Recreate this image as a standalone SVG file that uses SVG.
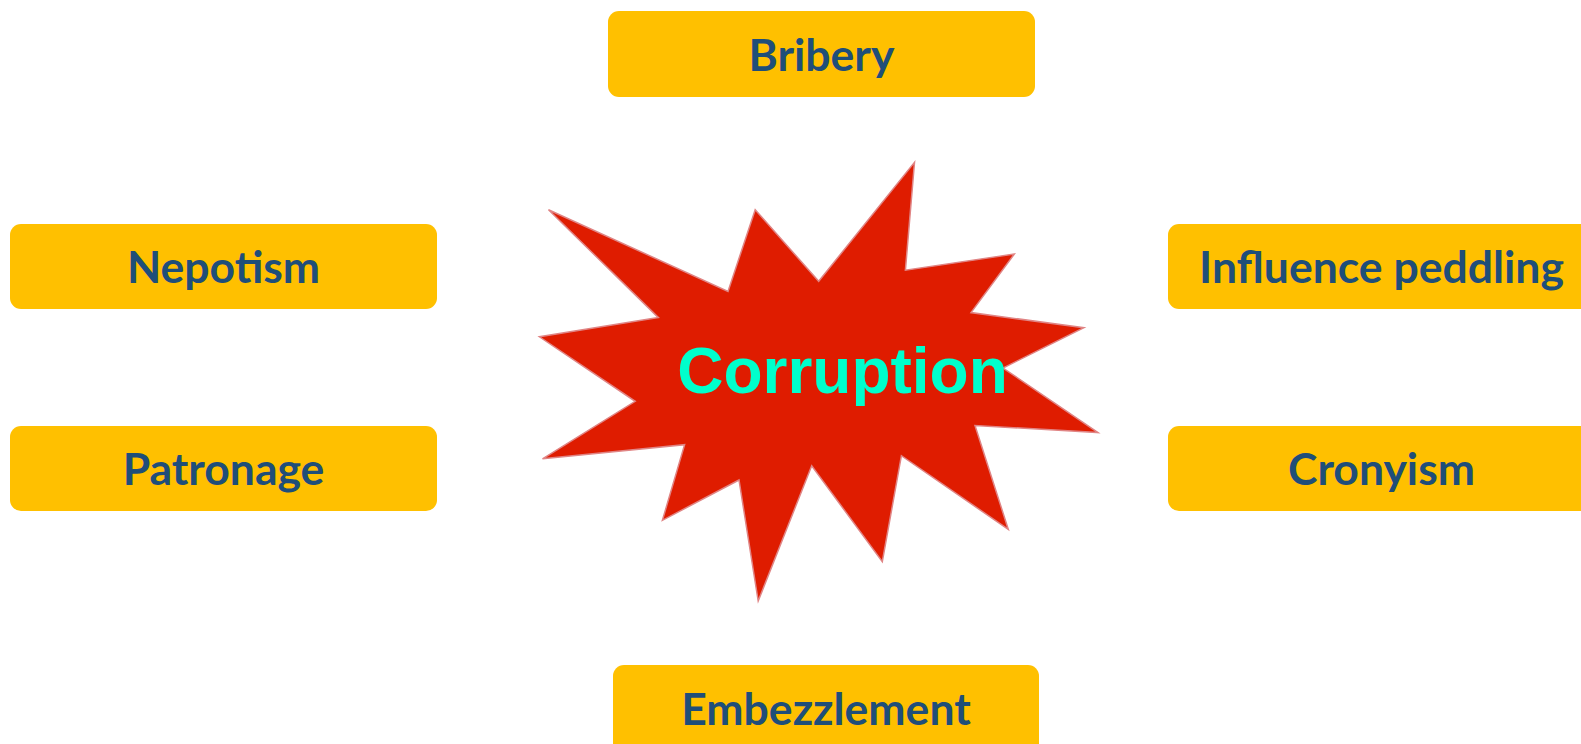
<svg xmlns="http://www.w3.org/2000/svg" width="1581" height="744" viewBox="0 0 1581 744">
<style>
.box{fill:#FFC000}
.lbl{font-family:Lato,"Open Sans","Liberation Sans",sans-serif;font-weight:700;font-size:44.5px;fill:#1F4E79;text-anchor:middle}
.star{fill:#DF1C00;stroke:#E08585;stroke-width:1.5;stroke-linejoin:miter}
.core{font-family:"Liberation Sans",Arial,sans-serif;font-weight:700;font-size:64px;fill:#00FFCC;text-anchor:middle}
</style>
<rect width="1581" height="744" fill="#FFFFFF"/>
<g id="connectors"></g>
<g id="corruption">
<polygon class="star" points="548.5,209.7 728,291.4 755.2,209.7 818.7,281.3 914.5,162.3 905.4,270.2 1014.3,254.1 971,312.6 1083.9,327.7 1003,368 1098,432.6 975,425.5 1008.3,529.4 901.4,455.7 882.3,561.6 811.7,465.8 758.2,601 739,480 662.4,520.3 684.6,444.7 542.5,458.8 635.2,401.3 539.4,336.8 658.4,317.6"/>
<text class="core" x="842.5" y="393">Corruption</text>
</g>
<g id="bribery">
<rect class="box" x="608" y="11" width="427" height="86" rx="11"/>
<text class="lbl" x="821.5" y="71">Bribery</text>
</g>
<g id="nepotism">
<rect class="box" x="10" y="224" width="427" height="85" rx="11"/>
<text class="lbl" x="223.5" y="283">Nepotism</text>
</g>
<g id="patronage">
<rect class="box" x="10" y="426" width="427" height="85" rx="11"/>
<text class="lbl" x="223.5" y="485">Patronage</text>
</g>
<g id="influence-peddling">
<rect class="box" x="1168" y="224" width="427" height="85" rx="11"/>
<text class="lbl" x="1381.5" y="283">Influence peddling</text>
</g>
<g id="cronyism">
<rect class="box" x="1168" y="426" width="427" height="85" rx="11"/>
<text class="lbl" x="1381.5" y="485">Cronyism</text>
</g>
<g id="embezzlement">
<rect class="box" x="613" y="665" width="426" height="90" rx="11"/>
<text class="lbl" x="826" y="725">Embezzlement</text>
</g>
</svg>
